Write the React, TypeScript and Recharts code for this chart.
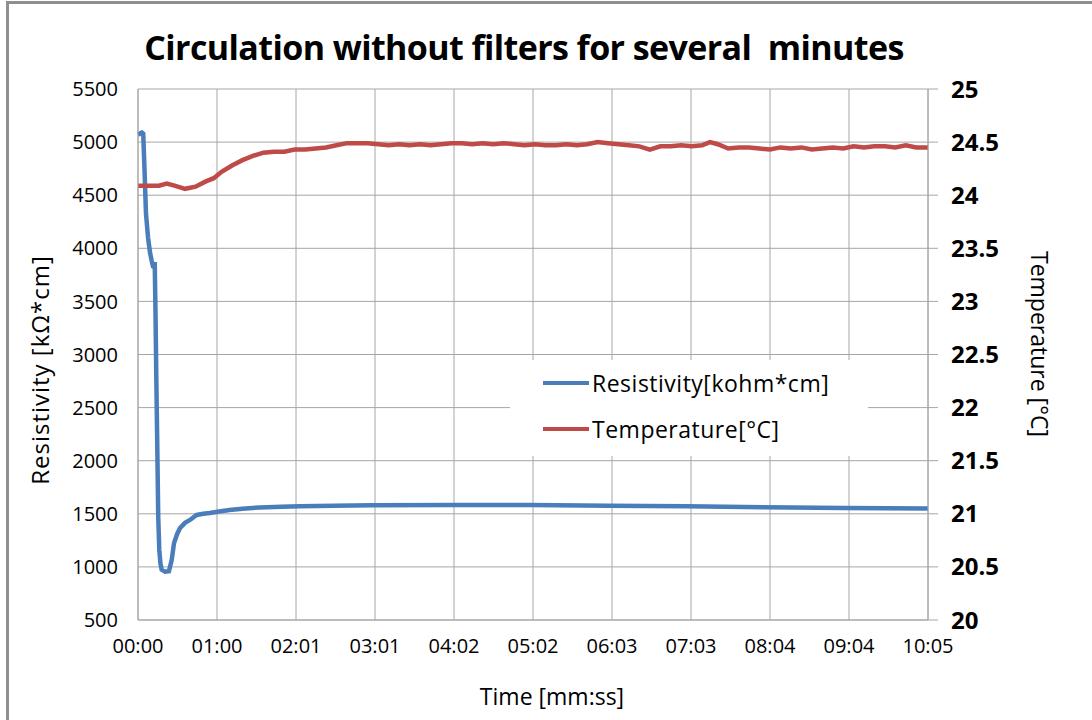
import React from 'react';
import { CartesianGrid, Legend, Line, LineChart, XAxis, YAxis } from 'recharts';

// time in seconds from start
const resistivityTimes = [
  0, 1, 2, 3, 4, 5.1, 6.1, 7.7, 9.2, 10.5, 11.5, 12.3, 12.8, 13.4, 14, 14.8, 15.5, 16.3, 17.2, 18.1,
  20.7, 23.7, 25.8, 27.6, 30, 32.2, 36, 39.8, 44.9, 50, 55, 62, 70, 80, 93, 110, 124, 150, 180, 240,
  300, 360, 420, 480, 540, 605,
];
const resistivityValues = [
  5070, 5075, 5085, 5090, 5080, 4700, 4330, 4100, 3960, 3880, 3830, 3825, 3870, 3400, 2800, 2100, 1470, 1160, 1030, 975,
  955, 960, 1065, 1225, 1310, 1366, 1415, 1442, 1489, 1500, 1508, 1522, 1535, 1548, 1560, 1567, 1572, 1576, 1580, 1582,
  1582, 1576, 1570, 1562, 1555, 1550,
];

const temperatureTimes = [
  0, 8, 16, 22, 28, 36, 44, 52, 58, 64, 72, 80, 88, 96, 104, 112, 120, 128, 136, 144,
  152, 160, 168, 176, 184, 192, 200, 208, 216, 224, 232, 240, 248, 256, 264, 272, 280, 288, 296, 304,
  312, 320, 328, 336, 344, 352, 360, 368, 376, 384, 392, 400, 408, 416, 424, 432, 438, 444, 452, 460,
  468, 476, 484, 492, 500, 508, 516, 524, 532, 540, 548, 556, 564, 572, 580, 588, 596, 605,
];
const temperatureValues = [
  24.09, 24.09, 24.09, 24.11, 24.09, 24.06, 24.08, 24.13, 24.16, 24.22, 24.28, 24.33, 24.37, 24.4, 24.41, 24.41, 24.43, 24.43, 24.44, 24.45,
  24.47, 24.49, 24.49, 24.49, 24.48, 24.47, 24.48, 24.47, 24.48, 24.47, 24.48, 24.49, 24.49, 24.48, 24.49, 24.48, 24.49, 24.48, 24.47, 24.48,
  24.47, 24.47, 24.48, 24.47, 24.48, 24.5, 24.49, 24.48, 24.47, 24.46, 24.43, 24.46, 24.46, 24.47, 24.46, 24.47, 24.5, 24.48, 24.44, 24.45,
  24.45, 24.44, 24.43, 24.45, 24.44, 24.45, 24.43, 24.44, 24.45, 24.44, 24.46, 24.45, 24.46, 24.46, 24.45, 24.47, 24.45, 24.45,
];

const timeTicks = [0, 60.5, 121, 181.5, 242, 302.5, 363, 423.5, 484, 544.5, 605];
const timeTickLabels = ['00:00', '01:00', '02:01', '03:01', '04:02', '05:02', '06:03', '07:03', '08:04', '09:04', '10:05'];
const resistivityTicks = [500, 1000, 1500, 2000, 2500, 3000, 3500, 4000, 4500, 5000, 5500];
const temperatureTicks = [20, 20.5, 21, 21.5, 22, 22.5, 23, 23.5, 24, 24.5, 25];

const resistivityData = resistivityTimes.map((t, i) => ({ t, resistivity: resistivityValues[i] }));
const temperatureData = temperatureTimes.map((t, i) => ({ t, temperature: temperatureValues[i] }));

const FONT = '"Open Sans", Lato, sans-serif';
const GRID = '#a6a6a6';

function LegendBox({ payload }: any) {
  return (
    <div style={{ paddingLeft: 33 }}>
      {(payload || []).map((item: any) => (
        <div key={item.value} style={{ display: 'flex', alignItems: 'center', height: 46 }}>
          <div style={{ width: 46, height: 4, background: item.color, marginRight: 3 }} />
          <span style={{ fontFamily: FONT, fontSize: 23, color: '#000', letterSpacing: 0.5 }}>{item.value}</span>
        </div>
      ))}
    </div>
  );
}

export default function App() {
  return (
    <div style={{ position: 'absolute', left: 0, top: 0, width: 1092, height: 720, background: '#fff', overflow: 'hidden' }}>
      <div
        style={{
          position: 'absolute',
          left: 6,
          top: 1,
          width: 1200,
          height: 800,
          borderTop: '3px solid #8f8f8f',
          borderLeft: '3px solid #8f8f8f',
        }}
      />
      <div
        style={{
          position: 'absolute',
          left: 0,
          top: 24,
          width: 1048,
          textAlign: 'center',
          fontFamily: FONT,
          fontWeight: 700,
          fontSize: 34,
          letterSpacing: -0.6,
          color: '#000',
          whiteSpace: 'pre',
        }}
      >
        {'Circulation without filters for several  minutes'}
      </div>
      <div style={{ position: 'absolute', left: 0, top: 0 }}>
        <LineChart width={1092} height={720} margin={{ top: 89, right: 0, bottom: 0, left: 0 }}>
          <CartesianGrid stroke={GRID} yAxisId="left" />
          <XAxis
            dataKey="t"
            type="number"
            domain={[0, 605]}
            ticks={timeTicks}
            tickFormatter={(v: number) => timeTickLabels[timeTicks.indexOf(v)] ?? ''}
            height={100}
            tickSize={0}
            tickMargin={19}
            axisLine={{ stroke: GRID }}
            tick={{ fontFamily: FONT, fontSize: 20, fill: '#000' }}
            allowDuplicatedCategory={false}
          />
          <YAxis
            yAxisId="left"
            domain={[500, 5500]}
            ticks={resistivityTicks}
            width={138}
            tickSize={0}
            tickMargin={20}
            axisLine={{ stroke: GRID }}
            tick={{ fontFamily: FONT, fontSize: 20, fill: '#000' }}
          />
          <YAxis
            yAxisId="right"
            orientation="right"
            domain={[20, 25]}
            ticks={temperatureTicks}
            width={164}
            tickSize={10}
            tickMargin={13}
            axisLine={{ stroke: GRID }}
            tickLine={{ stroke: GRID }}
            tick={{ fontFamily: FONT, fontSize: 24, fontWeight: 700, fill: '#000' }}
          />
          <Legend
            layout="vertical"
            align="center"
            verticalAlign="middle"
            content={<LegendBox />}
            wrapperStyle={{ left: 510, top: 360, width: 358, height: 96, background: '#fff' }}
          />
          <Line
            yAxisId="left"
            data={resistivityData}
            dataKey="resistivity"
            name="Resistivity[kohm*cm]"
            stroke="#4a7ebb"
            strokeWidth={4.5}
            dot={false}
            activeDot={false}
            isAnimationActive={false}
          />
          <Line
            yAxisId="right"
            data={temperatureData}
            dataKey="temperature"
            name="Temperature[°C]"
            stroke="#be4b48"
            strokeWidth={4.5}
            dot={false}
            activeDot={false}
            isAnimationActive={false}
          />
        </LineChart>
      </div>
      <div
        style={{
          position: 'absolute',
          left: 39,
          top: 370,
          transform: 'translate(-50%, -50%) rotate(-90deg)',
          whiteSpace: 'nowrap',
          fontFamily: FONT,
          fontSize: 24,
          letterSpacing: 1,
          color: '#000',
        }}
      >
        Resistivity [kΩ*cm]
      </div>
      <div
        style={{
          position: 'absolute',
          left: 1040,
          top: 344,
          transform: 'translate(-50%, -50%) rotate(90deg)',
          whiteSpace: 'nowrap',
          fontFamily: FONT,
          fontSize: 23,
          color: '#000',
        }}
      >
        Temperature [°C]
      </div>
      <div
        style={{
          position: 'absolute',
          left: 0,
          top: 680,
          width: 1104,
          textAlign: 'center',
          fontFamily: FONT,
          fontSize: 23,
          color: '#000',
        }}
      >
        Time [mm:ss]
      </div>
    </div>
  );
}
